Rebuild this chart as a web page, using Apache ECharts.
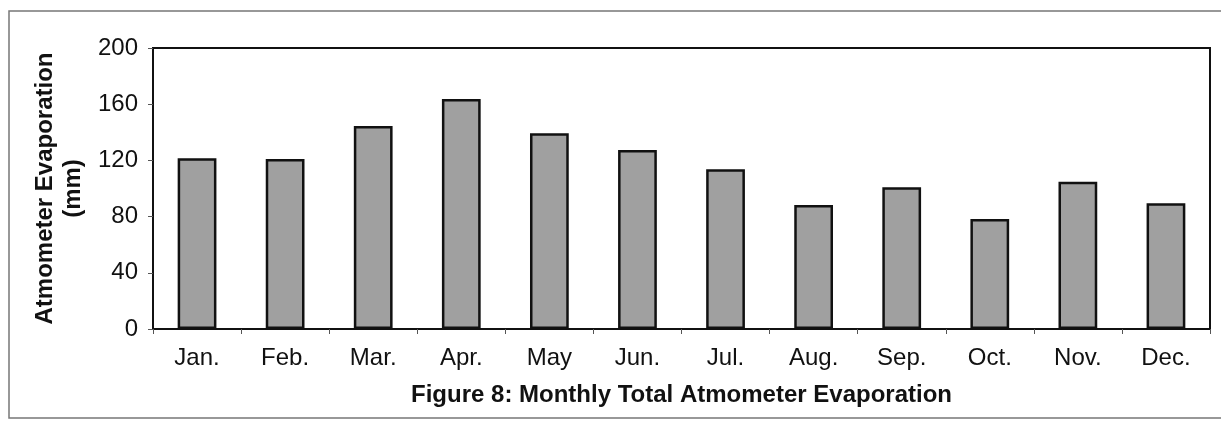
<!DOCTYPE html>
<html>
<head>
<meta charset="utf-8">
<script src="https://cdn.jsdelivr.net/npm/echarts@6/dist/echarts.min.js"></script>
<style>
  html, body { margin: 0; padding: 0; background: #fff; }
  #chart { width: 1221px; height: 430px; }
</style>
</head>
<body>
<div id="chart"></div>
<script>
  // monthly values
  var months = ['Jan.', 'Feb.', 'Mar.', 'Apr.', 'May', 'Jun.', 'Jul.', 'Aug.', 'Sep.', 'Oct.', 'Nov.', 'Dec.']
  var evaporation = [121.5, 121, 144.5, 163.7, 139.3, 127.4, 113.7, 88.3, 100.9, 78.3, 104.8, 89.5]

  var chart = echarts.init(document.getElementById('chart'))
  var font = 'Liberation Sans, Arial, sans-serif'

  var option = {
    backgroundColor: '#fff',
    animation: false,
    textStyle: { fontFamily: font, color: '#111' },
    // outer frame of the figure
    graphic: [{
      type: 'rect',
      shape: { x: 9, y: 11, width: 1222, height: 407 },
      style: { fill: 'none', stroke: '#777', lineWidth: 1.5 }
    }],
    grid: {
      left: 153, right: 11, top: 48, bottom: 101,
      show: true, borderColor: '#111', borderWidth: 2
    },
    xAxis: {
      type: 'category',
      data: months,
      name: 'Figure 8: Monthly Total Atmometer Evaporation',
      nameLocation: 'middle',
      nameGap: 54,
      nameTextStyle: { fontSize: 24, fontWeight: 'bold', color: '#111', fontFamily: font },
      axisLine: { lineStyle: { color: '#111', width: 2 } },
      axisTick: { show: true, length: 5, lineStyle: { color: '#555' } },
      axisLabel: { fontSize: 24, color: '#111', margin: 17, fontFamily: font }
    },
    yAxis: {
      type: 'value',
      min: 0, max: 200, interval: 40,
      name: 'Atmometer Evaporation\n(mm)',
      nameLocation: 'middle',
      nameGap: 64,
      nameTextStyle: { fontSize: 24, fontWeight: 'bold', color: '#111', lineHeight: 28, fontFamily: font },
      axisLine: { show: true, lineStyle: { color: '#111', width: 2 } },
      axisTick: { show: true, length: 5, lineStyle: { color: '#555' } },
      axisLabel: { fontSize: 24, color: '#111', margin: 15, fontFamily: font },
      splitLine: { show: false }
    },
    series: [{
      type: 'bar',
      data: evaporation,
      barWidth: '44%',
      itemStyle: { color: '#a0a0a0', borderColor: '#111', borderWidth: 2.5 }
    }]
  }
  chart.setOption(option)
</script>
</body>
</html>
